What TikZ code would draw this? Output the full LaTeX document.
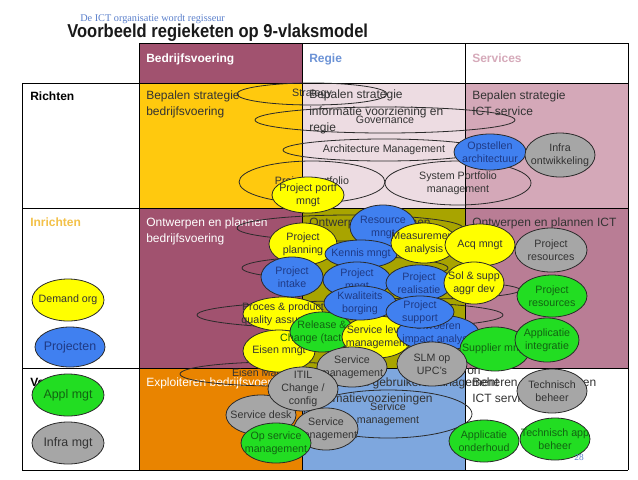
\documentclass[tikz,border=0pt]{standalone}
\usepackage{fontspec}
\usepackage{graphicx}
\setmainfont{Liberation Sans}
\newfontfamily\subserif{Liberation Serif}
\usetikzlibrary{shapes.geometric}
\definecolor{cMv}{HTML}{A1526F}
\definecolor{cYel}{HTML}{FFC90E}
\definecolor{cLpk}{HTML}{EDDCE2}
\definecolor{cPnk}{HTML}{D4A8B8}
\definecolor{cOlv}{HTML}{A8A400}
\definecolor{cPk2}{HTML}{B97D95}
\definecolor{cOrg}{HTML}{E98400}
\definecolor{cLbl}{HTML}{7EA7DE}
\definecolor{tRegie}{HTML}{6C93D6}
\definecolor{tServ}{HTML}{D6AABA}
\definecolor{tInr}{HTML}{F3C149}
\definecolor{tDark}{HTML}{333333}
\definecolor{tBlue}{HTML}{5B80CC}
\definecolor{fY}{HTML}{FFFF00}
\definecolor{fB}{HTML}{4080F0}
\definecolor{fG}{HTML}{22DD22}
\definecolor{fA}{HTML}{A6A6A6}
\definecolor{tB}{HTML}{1F3A85}
\definecolor{tG}{HTML}{126312}
\definecolor{lnC}{HTML}{2A2A2A}
\newcommand\Ell[7]{%
  \node[#6,ellipse,inner sep=0pt,minimum width={1.5pt*#4},minimum height={1.5pt*#5}] (#1) at (#2,#3) {};
  \node[#6T] (#1t) at (#1.center) {#7};}
\tikzset{
  et/.style={align=center, inner sep=0pt, font=\fontsize{8}{9.8}\selectfont},
  eb/.style={draw=lnC, line width=0.6pt},
  yel/.style={eb, fill=fY}, yelT/.style={et, text=tDark},
  blu/.style={eb, fill=fB}, bluT/.style={et, text=tB},
  grn/.style={eb, fill=fG}, grnT/.style={et, text=tG},
  gry/.style={eb, fill=fA}, gryT/.style={et, text=tDark},
  otl/.style={eb}, otlT/.style={et, text=tDark},
  celltxt/.style={anchor=base west, align=left, inner sep=0pt, font=\fontsize{9}{12.2}\selectfont},
  hdr/.style={anchor=base west, inner sep=0pt, font=\bfseries\fontsize{9}{11}\selectfont},
  gridln/.style={draw=black, line width=0.75pt},
}
\begin{document}
\begin{tikzpicture}[x=0.75pt,y=-0.75pt]
\useasboundingbox (0,0) rectangle (638,479);
\fill[white] (0,0) rectangle (638,479);
% titles
\node[anchor=base west, inner sep=0pt, font=\subserif\fontsize{7.7}{9}\selectfont, text=tBlue] (sub) at (80,21) {De ICT organisatie wordt regisseur};
\node[anchor=base west, inner sep=0pt, font=\bfseries\fontsize{14}{16}\selectfont, text=black!90] (title) at (67,37) {\scalebox{0.885}[1]{Voorbeeld regieketen op 9-vlaksmodel}};
% cells
\fill[cMv] (139,43) rectangle (302,83);
\fill[cYel] (139,83) rectangle (302,208);
\fill[cLpk] (302,83) rectangle (465,208);
\fill[cPnk] (465,83) rectangle (628,208);
\fill[cMv] (139,208) rectangle (302,368);
\fill[cOlv] (302,208) rectangle (465,368);
\fill[cPk2] (465,208) rectangle (628,368);
\fill[cOrg] (139,368) rectangle (302,470);
\fill[cLbl] (302,368) rectangle (465,470);
% grid
\draw[gridln] (139,43) -- (628,43);
\draw[gridln] (139,43) -- (139,470);
\draw[gridln] (302,43) -- (302,470);
\draw[gridln] (465,43) -- (465,470);
\draw[gridln] (628,43) -- (628,470);
\draw[gridln] (22,83) -- (22,470);
\draw[gridln] (22,83) -- (628,83);
\draw[gridln] (22,208) -- (628,208);
\draw[gridln] (22,368) -- (628,368);
\draw[gridln] (22,470) -- (628,470);
% headers
\node[hdr, text=white] (h1) at (146,62) {Bedrijfsvoering};
\node[hdr, text=tRegie] (h2) at (309,62) {Regie};
\node[hdr, text=tServ] (h3) at (472,62) {Services};
\node[hdr, text=black] (r1) at (30,100) {Richten};
\node[hdr, text=tInr] (r2) at (30,226) {Inrichten};
\node[hdr, text=black] (r3) at (30,386) {Verrichten};
% cell texts (anchored at the baseline of their last line)
\node[celltxt, text=tDark] (t11) at (146,115.3) {Bepalen strategie\\bedrijfsvoering};
\node[celltxt, text=tDark] (t12) at (309,131.5) {Bepalen strategie\\informatie voorziening en\\regie};
\node[celltxt, text=tDark] (t13) at (472,115.3) {Bepalen strategie\\ICT service};
\node[celltxt, text=white] (t21) at (146,242.3) {Ontwerpen en plannen\\bedrijfsvoering};
\node[celltxt, text=tDark] (t22) at (309,226) {Ontwerpen en plannen};
\node[celltxt, text=tDark] (t23) at (472,226) {Ontwerpen en plannen ICT};
\node[celltxt, text=white] (t31) at (146,386) {Exploiteren bedrijfsvoering};
\node[celltxt, text=tDark] (t32) at (309,402.3) {Exploiteren gebruikersmanagement\\informatievoozieningen};
\node[celltxt, text=tDark] (t33) at (472,402.3) {Beheren en exploiteren\\ICT services};
\node[celltxt, text=tDark] (on) at (467,374) {on};
% outline ellipses
\Ell{oS}{312}{94}{75}{11}{otl}{Strategy}
\Ell{oG}{385}{120}{130}{13}{otl}{Governance}
\Ell{oA}{384}{150}{101}{11}{otl}{Architecture Management}
\Ell{oP}{312}{182}{73}{21}{otl}{Project portfolio}
\Ell{oY}{458}{183}{73}{22}{otl}{System Portfolio\\management}
\Ell{oR1}{350}{228}{113}{13}{otl}{}
\Ell{oR2}{345}{268}{103}{12}{otl}{}
\Ell{oR3}{425}{290}{95}{9}{otl}{}
\Ell{oR4}{350}{315}{153}{14}{otl}{}
\Ell{oE}{278}{374}{98}{12}{otl}{Eisen Management}
\Ell{oSM}{388}{414}{84}{24}{otl}{Service\\management}
% row 1
\Ell{e1}{308}{195}{36}{18}{yel}{Project portf\\mngt}
\Ell{e2}{490}{152}{36}{18}{blu}{Opstellen\\architectuur}
\Ell{e3}{560}{155}{35}{22}{gry}{Infra\\ontwikkeling}
% row 2
\Ell{e4}{383}{227}{33}{22}{blu}{Resource\\mngt}
\Ell{e5}{303}{244}{34}{21}{yel}{Project\\planning}
\Ell{e6}{361}{254}{36}{14}{blu}{Kennis mngt}
\Ell{e7}{424}{243}{33}{20}{yel}{Measurement\\analysis}
\Ell{e8}{480}{245}{35}{21}{yel}{Acq mngt}
\Ell{e9}{551}{250}{36}{22}{gry}{Project\\resources}
\Ell{e10}{292}{277}{31}{20}{blu}{Project\\intake}
\Ell{e11}{357}{280}{34}{18}{blu}{Project\\mngt}
\Ell{e12}{419}{283}{33}{18}{blu}{Project\\realisatie}
\Ell{e13}{474}{283}{30}{21}{yel}{Sol \& supp\\aggr dev}
\Ell{e14}{552}{296}{35}{21}{grn}{Project\\resources}
\Ell{e15}{283}{314}{40}{17}{yel}{Proces \& product\\quality assurance}
\Ell{e16}{279}{351}{36}{21}{yel}{Eisen mngt}
\Ell{e17}{322}{332}{32}{20}{grn}{Release \&\\Change (tactisch)}
\Ell{e18}{377}{337}{35}{21}{yel}{Service level\\management}
\Ell{e19}{360}{303}{36}{17}{blu}{Kwaliteits\\borging}
\Ell{e20}{438}{333}{41}{18}{blu}{Uitvoeren\\impact analyse}
\Ell{e21}{420}{312}{34}{16}{blu}{Project\\support}
\Ell{e22}{495}{349}{35}{22}{grn}{Supplier mngt}
\Ell{e23}{547}{340}{32}{22}{grn}{Applicatie\\integratie}
\Ell{e24}{352}{367}{35}{20}{gry}{Service\\management}
\Ell{e25}{432}{364}{35}{22}{gry}{SLM op\\UPC’s}
% row 3
\Ell{e26}{261}{415}{35}{20}{gry}{Service desk}
\Ell{e27}{303}{389}{35}{22}{gry}{ITIL\\Change /\\config}
\Ell{e28}{326}{429}{32}{21}{gry}{Service\\management}
\Ell{e29}{276}{443}{35}{20}{grn}{Op service\\management}
\Ell{e30}{552}{391}{35}{22}{gry}{Technisch\\beheer}
\Ell{e31}{484}{441}{35}{21}{grn}{Applicatie\\onderhoud}
\Ell{e32}{555}{439}{35}{21}{grn}{Technisch app\\beheer}
% left column
\Ell{l1}{68}{300}{36}{21}{yel}{Demand org}
\Ell{l2}{70}{347}{35}{20}{blu}{\fontsize{9.3}{11}\selectfont Projecten}
\Ell{l3}{68}{395}{36}{21}{grn}{\fontsize{9.3}{11}\selectfont Appl mgt}
\Ell{l4}{68}{443}{36}{21}{gry}{\fontsize{9.3}{11}\selectfont Infra mgt}
\node[font=\subserif\fontsize{7}{8}\selectfont, text=tBlue, inner sep=0pt] (pg) at (579,457) {28};
\end{tikzpicture}
\end{document}
